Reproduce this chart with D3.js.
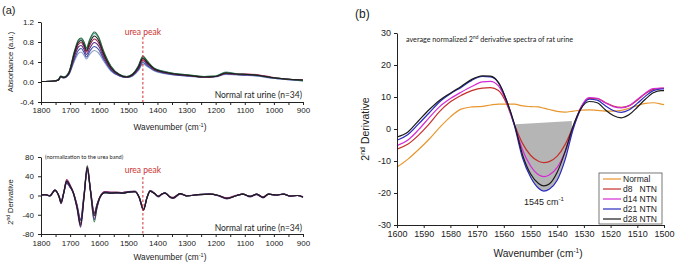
<!DOCTYPE html>
<html>
<head>
<meta charset="utf-8">
<script src="https://cdn.jsdelivr.net/npm/d3@7"></script>
<style>
body{margin:0;background:#fff}
svg text{font-family:"Liberation Sans",Arial,sans-serif;fill:#222}
.ann{font-family:Lato,"Open Sans",sans-serif}
</style>
</head>
<body>
<div class="fig"></div>
<script>
// ---- panel (a) top: absorbance spectra (a few of the 34 urine spectra)
const wnAbs = [1800,1755,1740,1732,1722,1705,1685,1672,1662,1652,1644,1632,1617,1602,1585,1560,1530,1505,1485,1465,1450,1435,1410,1380,1340,1290,1240,1200,1165,1130,1090,1050,1010,960,900]
const absGreen  = [0.01,0.02,0.05,0.12,0.10,0.19,0.62,0.84,0.88,0.80,0.68,0.86,1.00,0.90,0.62,0.32,0.15,0.11,0.16,0.33,0.52,0.42,0.27,0.21,0.17,0.14,0.11,0.12,0.19,0.16,0.15,0.13,0.09,0.06,0.03]
const absTeal   = [0.01,0.02,0.05,0.12,0.10,0.18,0.60,0.82,0.86,0.78,0.66,0.84,0.97,0.88,0.60,0.31,0.15,0.11,0.16,0.32,0.50,0.41,0.27,0.22,0.17,0.14,0.11,0.12,0.20,0.17,0.15,0.13,0.09,0.06,0.02]
const absBlack  = [0.01,0.02,0.04,0.11,0.09,0.17,0.58,0.79,0.83,0.74,0.63,0.79,0.92,0.83,0.57,0.29,0.14,0.10,0.15,0.30,0.48,0.39,0.26,0.20,0.16,0.13,0.10,0.11,0.18,0.16,0.15,0.13,0.09,0.06,0.04]
const absCrimson= [0.01,0.02,0.04,0.11,0.09,0.17,0.55,0.75,0.79,0.70,0.60,0.74,0.86,0.78,0.54,0.28,0.14,0.10,0.15,0.29,0.46,0.38,0.25,0.20,0.16,0.13,0.10,0.11,0.17,0.16,0.16,0.14,0.10,0.06,0.04]
const absPurple = [0.01,0.02,0.04,0.11,0.09,0.16,0.51,0.70,0.73,0.65,0.55,0.68,0.79,0.72,0.50,0.26,0.13,0.10,0.14,0.27,0.43,0.36,0.25,0.19,0.15,0.12,0.10,0.11,0.17,0.15,0.14,0.13,0.09,0.06,0.04]
const absBlue   = [0.01,0.02,0.04,0.10,0.08,0.15,0.46,0.63,0.67,0.59,0.50,0.62,0.71,0.65,0.46,0.24,0.12,0.09,0.13,0.25,0.39,0.33,0.23,0.18,0.14,0.12,0.10,0.11,0.16,0.15,0.14,0.12,0.08,0.05,0.03]
const absSlate  = [0.01,0.02,0.04,0.10,0.08,0.14,0.42,0.57,0.60,0.53,0.46,0.56,0.63,0.58,0.42,0.22,0.12,0.09,0.12,0.23,0.36,0.31,0.22,0.17,0.14,0.11,0.09,0.10,0.15,0.14,0.13,0.11,0.08,0.05,0.02]
const absTicksY = [-0.4,0,0.4,0.8,1.2]

// ---- panel (a) bottom: 2nd derivative spectra
const wnDer = [1800,1785,1770,1752,1738,1731,1722,1712,1700,1689,1676,1664,1652,1641,1630,1617,1607,1597,1580,1560,1540,1520,1500,1477,1462,1448,1436,1425,1410,1397,1385,1374,1357,1346,1322,1299,1260,1219,1190,1162,1127,1107,1082,1059,1037,1019,990,967,944,920,900]
const derGreen  = [1,2,-1,11,-2,-14,5,31,19,5,-24,-52,2,62,9,-55,-22,-3,6,5,6,5,7,8,-5,-29,-5,9,4,-2,3,5,-3,-5,4,-1,2,3,0,-6,0,3,-2,3,-4,3,1,3,-1,0,-3]
const derBlue   = [1,2,-1,10,-2,-12,6,25,17,6,-20,-50,4,52,11,-36,-17,-2,6,5,6,5,7,8,-4,-29,-4,9,4,-2,3,5,-3,-5,4,-1,2,3,0,-6,0,3,-2,3,-4,3,1,3,-1,0,-3]
const derMagenta= [1,2,0,10,-1,-13,6,33,22,7,-22,-58,0,60,12,-38,-18,-2,8,7,7,6,8,8,-4,-28,-5,9,4,-1,3,5,-2,-4,4,0,2,3,0,-5,1,3,-2,3,-3,3,1,3,-1,0,-2]
const derPurple = [1,2,-1,12,-3,-17,4,28,18,4,-28,-66,-3,55,8,-50,-24,-4,7,6,5,6,8,9,-6,-31,-4,10,5,-3,2,6,-4,-6,3,-1,2,3,-1,-7,0,3,-3,2,-5,3,0,3,-2,0,-4]
const derBlack  = [1,2,-1,11,-2,-15,5,30,20,6,-25,-62,-2,58,10,-42,-20,-3,6,5,6,5,7,8,-5,-30,-5,9,4,-2,3,5,-3,-5,4,-1,2,3,0,-6,0,3,-2,3,-4,3,1,3,-1,0,-3]
const derTicksY = [-80,-40,0,40,80]
const ureaPeak = 1450

// ---- panel (b): average normalized 2nd derivative spectra
const wnB = [1600,1596,1592,1588,1584,1580,1576,1572,1568,1565,1562,1559,1556,1553,1550,1547,1545,1543,1540,1537,1534,1531,1528,1525,1522,1519,1516,1513,1510,1507,1504,1501,1500]
const normal = [-11.9,-9.5,-6.5,-3.2,0.5,3.8,6.2,6.9,7.1,7.5,7.8,7.8,7.8,7.2,7.0,6.9,6.5,6.1,5.5,5.3,5.6,5.9,6.0,5.8,5.6,5.6,5.8,6.5,7.3,8.0,8.2,7.8,7.6]
const d8  = [-6.3,-4.8,-2.0,1.5,5.5,8.5,10.5,12.0,12.8,12.9,12.0,8.0,1.3,-4.5,-8.2,-10.1,-10.5,-10.2,-8.5,-4.8,0.8,6.8,9.6,9.5,8.3,7.2,6.8,7.3,9.0,11.0,12.4,12.7,12.7]
const d14 = [-5.2,-3.5,-0.3,3.5,7.0,9.5,11.5,13.3,14.7,14.9,13.5,8.5,1.2,-6.5,-11.5,-14.3,-14.9,-14.4,-12.0,-7.0,0.5,7.0,9.8,9.6,8.2,7.0,6.6,7.3,9.2,11.2,12.6,12.8,12.8]
const d21 = [-3.5,-1.8,1.5,5.0,8.5,11.0,13.0,15.2,16.4,16.3,14.5,9.0,1.0,-9.0,-15.0,-18.5,-19.4,-18.8,-16.0,-9.5,0.0,6.5,9.3,9.0,7.3,5.8,5.2,6.0,8.0,10.2,12.0,12.5,12.5]
const d28 = [-2.5,-1.0,2.5,6.0,9.0,11.2,13.3,15.5,16.6,16.5,14.5,9.0,1.5,-8.0,-14.0,-17.0,-17.8,-17.2,-13.5,-7.0,1.0,6.5,8.6,8.2,6.0,4.2,3.5,4.5,6.8,9.3,11.3,12.0,12.0]
const legendNames = ["Normal","d8   NTN","d14 NTN","d21 NTN","d28 NTN"]
const bandChord = [[1555.5,1.5],[1534.5,2.5]]

const svg = d3.select(".fig").append("svg").attr("width",675).attr("height",264)

// small helper for axis styling
function styleAxis(g, fs) {
  g.attr("font-family", '"Liberation Sans",Arial,sans-serif').attr("font-size", fs)
  g.selectAll("path.domain").attr("stroke","#222").attr("stroke-width",1)
  g.selectAll(".tick line").attr("stroke","#222")
  g.selectAll(".tick text").attr("fill","#222")
}

// ================= panel (a) =================
const xA = d3.scaleLinear().domain([1800,900]).range([41,303])
const yA1 = d3.scaleLinear().domain([-0.4,1.2]).range([102,22])
const yA2 = d3.scaleLinear().domain([-80,80]).range([234,157])
const xTicksA = d3.range(1800, 850, -50)

svg.append("text").attr("x",2).attr("y",14).attr("font-size",11).text("(a)")

// top plot
const lineAbs = d3.line().x((d,i)=>xA(wnAbs[i])).y(d=>yA1(d)).curve(d3.curveMonotoneX)
const absSeries = [
  {c:"#8ea2c8", v:absSlate},{c:"#4a9a94", v:absTeal},{c:"#3b4fa8", v:absBlue},
  {c:"#5b2c83", v:absPurple},{c:"#a0204e", v:absCrimson},{c:"#2f6b3e", v:absGreen},{c:"#1e1e1e", v:absBlack}]
svg.append("g").selectAll("path").data(absSeries).enter().append("path")
   .attr("d", d=>lineAbs(d.v)).attr("fill","none").attr("stroke", d=>d.c).attr("stroke-width",1.15)

const gxA1 = svg.append("g").attr("transform","translate(0,102)")
  .call(d3.axisBottom(xA).tickValues(xTicksA).tickFormat(d=>d%100===0?d:"").tickSize(3).tickSizeOuter(0).tickPadding(2))
styleAxis(gxA1, 8)
const gyA1 = svg.append("g").attr("transform","translate(41,0)")
  .call(d3.axisLeft(yA1).tickValues(absTicksY).tickFormat(d=>d.toFixed(1)).tickSize(3).tickSizeOuter(0).tickPadding(4))
styleAxis(gyA1, 8)

svg.append("line").attr("x1",xA(ureaPeak)).attr("x2",xA(ureaPeak)).attr("y1",37).attr("y2",102)
   .attr("stroke","#cc3333").attr("stroke-width",1).attr("stroke-dasharray","2.5,2")
svg.append("text").attr("class","ann").attr("x",xA(ureaPeak)).attr("y",35).attr("text-anchor","middle")
   .attr("font-size",8.5).style("fill","#cc3333").text("urea peak")
svg.append("text").attr("class","ann").attr("x",302).attr("y",98).attr("text-anchor","end")
   .attr("font-size",8.5).text("Normal rat urine (n=34)")

const labA1 = svg.append("text").attr("x",170).attr("y",130).attr("text-anchor","middle").attr("font-size",8.3)
labA1.append("tspan").text("Wavenumber (cm")
labA1.append("tspan").attr("font-size",5.5).attr("dy",-3.5).text("-1")
labA1.append("tspan").attr("dy",3.5).text(")")
svg.append("text").attr("transform","translate(12.5,62) rotate(-90)").attr("text-anchor","middle")
   .attr("font-size",7.6).text("Absorbance (a.u.)")

// bottom plot
const lineDer = d3.line().x((d,i)=>xA(wnDer[i])).y(d=>yA2(d)).curve(d3.curveMonotoneX)
const derSeries = [
  {c:"#3a8a5a", v:derGreen},{c:"#3a3a9a", v:derBlue},{c:"#9a2a70", v:derMagenta},
  {c:"#5b2c83", v:derPurple},{c:"#1e1e1e", v:derBlack}]
svg.append("g").selectAll("path").data(derSeries).enter().append("path")
   .attr("d", d=>lineDer(d.v)).attr("fill","none").attr("stroke", d=>d.c).attr("stroke-width",1.2)

const gxA2 = svg.append("g").attr("transform","translate(0,234)")
  .call(d3.axisBottom(xA).tickValues(xTicksA).tickFormat(d=>d%100===0?d:"").tickSize(3).tickSizeOuter(0).tickPadding(3))
styleAxis(gxA2, 8)
const gyA2 = svg.append("g").attr("transform","translate(41,0)")
  .call(d3.axisLeft(yA2).tickValues(derTicksY).tickFormat(d=>String(d)).tickSize(3).tickSizeOuter(0).tickPadding(4))
styleAxis(gyA2, 8)

svg.append("line").attr("x1",xA(ureaPeak)).attr("x2",xA(ureaPeak)).attr("y1",177).attr("y2",234)
   .attr("stroke","#cc3333").attr("stroke-width",1).attr("stroke-dasharray","2.5,2")
svg.append("text").attr("class","ann").attr("x",xA(ureaPeak)).attr("y",173).attr("text-anchor","middle")
   .attr("font-size",8.5).style("fill","#cc3333").text("urea peak")
svg.append("text").attr("class","ann").attr("x",302).attr("y",231).attr("text-anchor","end")
   .attr("font-size",8.5).text("Normal rat urine (n=34)")
svg.append("text").attr("class","ann").attr("x",45).attr("y",159).attr("font-size",5.6)
   .text("(normalization to the urea band)")

const labA2 = svg.append("text").attr("x",170).attr("y",260).attr("text-anchor","middle").attr("font-size",8.3)
labA2.append("tspan").text("Wavenumber (cm")
labA2.append("tspan").attr("font-size",5.5).attr("dy",-3.5).text("-1")
labA2.append("tspan").attr("dy",3.5).text(")")
const labDerA = svg.append("text").attr("transform","translate(13,202) rotate(-90)").attr("text-anchor","middle").attr("font-size",7.6)
labDerA.append("tspan").text("2")
labDerA.append("tspan").attr("font-size",5).attr("dy",-3).text("nd")
labDerA.append("tspan").attr("dy",3).text(" Derivative")

// ================= panel (b) =================
const xB = d3.scaleLinear().domain([1600,1500]).range([397,664])
const yB = d3.scaleLinear().domain([-30,30]).range([225,33])

svg.append("text").attr("x",355).attr("y",18).attr("font-size",12).text("(b)")

// grey band between chord and deepest curve
const chordPts = bandChord.map(p=>[xB(p[0]),yB(p[1])])
svg.append("clipPath").attr("id","bandClip").append("path")
   .attr("d", d3.line()([chordPts[0], chordPts[1], [chordPts[1][0], yB(-30)], [chordPts[0][0], yB(-30)]]) + "Z")
const bandArea = d3.area().x((d,i)=>xB(wnB[i])).y0(yB(30)).y1(d=>yB(d)).curve(d3.curveMonotoneX)
svg.append("path").attr("d", bandArea(d21)).attr("fill","#b5b5b5").attr("clip-path","url(#bandClip)")

const colB = ["#e8962e","#c4302b","#d42ad4","#2a2ac0","#1a1a1a"]
const seriesB = [normal,d8,d14,d21,d28]
const lineB = d3.line().x((d,i)=>xB(wnB[i])).y(d=>yB(d)).curve(d3.curveMonotoneX)
svg.append("g").selectAll("path").data(seriesB).enter().append("path")
   .attr("d", d=>lineB(d)).attr("fill","none").attr("stroke", (d,i)=>colB[i]).attr("stroke-width",1.2)

const gxB = svg.append("g").attr("transform","translate(0,225)")
  .call(d3.axisBottom(xB).tickValues(d3.range(1600,1499,-10)).tickFormat(d=>String(d)).tickSize(3).tickSizeOuter(0).tickPadding(3))
styleAxis(gxB, 9)
const gyB = svg.append("g").attr("transform","translate(397,0)")
  .call(d3.axisLeft(yB).tickValues(d3.range(-30,31,10)).tickFormat(d=>String(d)).tickSize(3).tickSizeOuter(0).tickPadding(3))
styleAxis(gyB, 9)

const titleB = svg.append("text").attr("class","ann").attr("x",406).attr("y",42).attr("font-size",7.2)
titleB.append("tspan").text("average normalized 2")
titleB.append("tspan").attr("font-size",4.8).attr("dy",-2.6).text("nd")
titleB.append("tspan").attr("dy",2.6).text(" derivative spectra of rat urine")

const peakLab = svg.append("text").attr("x",xB(1545)).attr("y",205).attr("text-anchor","middle").attr("font-size",9)
peakLab.append("tspan").text("1545 cm")
peakLab.append("tspan").attr("font-size",6).attr("dy",-4).text("-1")

const labB = svg.append("text").attr("x",538).attr("y",257).attr("text-anchor","middle").attr("font-size",10.2)
labB.append("tspan").text("Wavenumber (cm")
labB.append("tspan").attr("font-size",6.5).attr("dy",-4).text("-1")
labB.append("tspan").attr("dy",4).text(")")
const labDerB = svg.append("text").attr("transform","translate(369,129) rotate(-90)").attr("text-anchor","middle").attr("font-size",10.5)
labDerB.append("tspan").text("2")
labDerB.append("tspan").attr("font-size",7).attr("dy",-4).text("nd")
labDerB.append("tspan").attr("dy",4).text(" Derivative")

// legend
const legend = svg.append("g").attr("transform","translate(599,173)")
legend.append("rect").attr("width",63).attr("height",51).attr("fill","#fff").attr("stroke","#555").attr("stroke-width",0.8)
const items = legend.selectAll(".legend").data(legendNames).enter().append("g")
  .attr("class","legend").attr("transform",(d,i)=>`translate(0,${6+i*10})`)
items.append("line").attr("x1",4).attr("x2",22).attr("stroke",(d,i)=>colB[i]).attr("stroke-width",1.2)
items.append("text").attr("x",24).attr("y",3).attr("font-size",8.5).style("white-space","pre").text(d=>d)
</script>
</body>
</html>
